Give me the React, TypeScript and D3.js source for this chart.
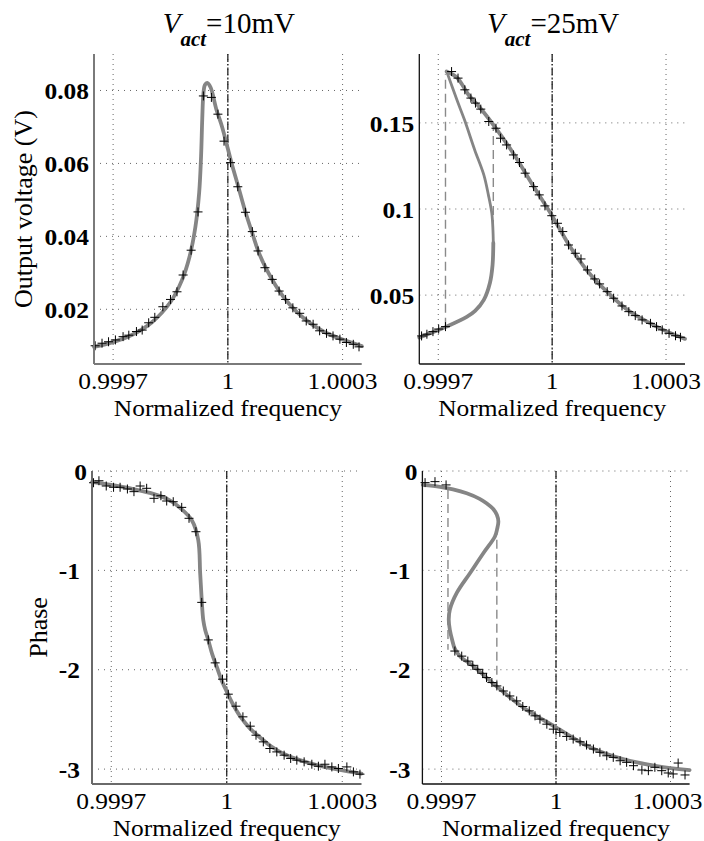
import React from 'react';
import * as d3 from 'd3';

type Pt = [number, number];

const FONT = '"Liberation Serif","Times New Roman",Times,serif';
const SX = 1.06; // horizontal stretch of the printed glyphs
const W = 704;
const H = 841;

// ---- axes / ticks ----
const freqDomain: Pt = [0.99965, 1.00035];
const freqTicks = [0.9997, 1, 1.0003];
const freqTickLabels = ['0.9997', '1', '1.0003'];

const amp10Domain: Pt = [0.005, 0.09];
const amp10Ticks = [0.02, 0.04, 0.06, 0.08];
const amp10TickLabels = ['0.02', '0.04', '0.06', '0.08'];

const amp25Domain: Pt = [0.01, 0.19];
const amp25Ticks = [0.05, 0.1, 0.15];
const amp25TickLabels = ['0.05', '0.1', '0.15'];

const phaseDomain: Pt = [-3.15, 0];
const phaseTicks = [0, -1, -2, -3];
const phaseTickLabels = ['0', '-1', '-2', '-3'];

const titles = ['=10mV', '=25mV'];

// ---- V_act = 10 mV, amplitude ----
const amp10Curve: Pt[] = [
  [0.99965, 0.0097], [0.9997, 0.0110], [0.99975, 0.0130], [0.9998, 0.0163], [0.99985, 0.0220],
  [0.99988, 0.0280], [0.9999, 0.0345], [0.999915, 0.0425], [0.999925, 0.0520], [0.99993, 0.0620],
  [0.999933, 0.0720], [0.999936, 0.0790], [0.99994, 0.0815], [0.999946, 0.0821], [0.999955, 0.0808],
  [0.99997, 0.0748], [0.999985, 0.0700], [1.0, 0.0640], [1.00001, 0.0600], [1.000025, 0.0545],
  [1.000045, 0.0470], [1.000065, 0.0405], [1.00008, 0.0358], [1.0001, 0.0312], [1.00013, 0.0257],
  [1.00016, 0.0215], [1.0002, 0.0174], [1.00025, 0.0139], [1.0003, 0.0117], [1.00035, 0.0099],
];
const amp10Meas: Pt[] = [
  [0.999653, 0.0100], [0.999671, 0.0107], [0.999688, 0.0111], [0.999706, 0.0116], [0.999726, 0.0125],
  [0.999741, 0.0129], [0.999761, 0.0139], [0.999776, 0.0143], [0.999793, 0.0163], [0.999809, 0.0178],
  [0.99983, 0.0207], [0.99985, 0.0227], [0.999867, 0.0248], [0.999883, 0.0294], [0.999904, 0.0362],
  [0.999922, 0.0467], [0.999936, 0.0785], [0.999957, 0.0781], [0.999974, 0.0735], [0.99999, 0.0661],
  [1.000007, 0.0602], [1.000026, 0.0536], [1.000046, 0.0466], [1.000064, 0.0413], [1.000079, 0.0360],
  [1.000097, 0.0314], [1.000116, 0.0282], [1.000134, 0.0250], [1.000151, 0.0227], [1.00017, 0.0204],
  [1.000188, 0.0189], [1.000205, 0.0168], [1.000223, 0.0159], [1.00024, 0.0141], [1.000258, 0.0134],
  [1.000275, 0.0127], [1.000293, 0.0118], [1.00031, 0.0109], [1.000328, 0.0104], [1.000343, 0.0097],
];

// ---- V_act = 25 mV, amplitude ----
const amp25Upper: Pt[] = [
  [0.999722, 0.1799], [0.99975, 0.1762], [0.99978, 0.1662], [0.99981, 0.1588], [0.99985, 0.1474],
  [0.9999, 0.1315], [0.99995, 0.1135], [1.0, 0.0960], [1.00005, 0.0772], [1.0001, 0.0621],
  [1.00015, 0.0508], [1.0002, 0.0412], [1.00025, 0.0346], [1.0003, 0.0291], [1.00035, 0.0246],
];
const amp25Middle: Pt[] = [
  [0.999845, 0.0803], [0.999844, 0.0880], [0.999841, 0.0976], [0.999832, 0.1082], [0.99982, 0.1198],
  [0.999796, 0.1343], [0.999769, 0.1518], [0.999749, 0.1634], [0.999722, 0.1799],
];
const amp25Lower: Pt[] = [
  [0.99965, 0.0254], [0.999678, 0.0278], [0.999722, 0.0317], [0.999775, 0.0373], [0.999797, 0.0408],
  [0.99982, 0.0472], [0.999836, 0.0570], [0.999843, 0.0675], [0.999845, 0.0803],
];
const amp25Meas: Pt[] = [
  [0.999656, 0.0263], [0.99967, 0.0273], [0.999686, 0.0288], [0.999701, 0.0303], [0.999719, 0.0317],
  [0.999735, 0.1798], [0.999752, 0.1760], [0.99977, 0.1692], [0.999786, 0.1644], [0.999798, 0.1615],
  [0.999812, 0.1580], [0.999833, 0.1508], [0.999852, 0.1469], [0.999864, 0.1411], [0.99988, 0.1372],
  [0.999898, 0.1314], [0.999914, 0.1270], [0.999929, 0.1208], [0.999951, 0.1130], [0.999966, 0.1082],
  [0.999981, 0.1018], [0.999999, 0.0961], [1.000014, 0.0917], [1.000028, 0.0869], [1.000043, 0.0791],
  [1.000061, 0.0743], [1.000076, 0.0710], [1.000093, 0.0646], [1.000112, 0.0594], [1.000125, 0.0565],
  [1.000145, 0.0520], [1.000162, 0.0482], [1.000184, 0.0437], [1.000202, 0.0404], [1.000219, 0.0381],
  [1.000237, 0.0356], [1.000259, 0.0336], [1.000275, 0.0317], [1.00029, 0.0298], [1.000308, 0.0278],
  [1.000325, 0.0264], [1.000338, 0.0255],
];
// jump lines: [frequency, from, to]
const amp25Jumps: [number, number, number][] = [
  [0.999719, 0.0317, 0.1785],
  [0.999845, 0.0803, 0.1474],
];

// ---- V_act = 10 mV, phase ----
const phase10Curve: Pt[] = [
  [0.99965, -0.11], [0.9997, -0.14], [0.99975, -0.175], [0.9998, -0.22], [0.99985, -0.29],
  [0.99988, -0.375], [0.99991, -0.50], [0.999926, -0.695], [0.999931, -1.03], [0.999935, -1.30],
  [0.999939, -1.50], [0.999944, -1.60], [0.999952, -1.70], [0.999962, -1.84], [0.999974, -1.97],
  [0.999986, -2.10], [1.0, -2.22], [1.000015, -2.34], [1.000035, -2.47], [1.00006, -2.59],
  [1.000086, -2.68], [1.000115, -2.77], [1.000147, -2.845], [1.00019, -2.91], [1.000234, -2.96],
  [1.00029, -3.005], [1.00035, -3.045],
];
const phase10Meas: Pt[] = [
  [0.999654, -0.118], [0.999668, -0.098], [0.999687, -0.151], [0.999706, -0.164], [0.999723, -0.164],
  [0.999742, -0.181], [0.999759, -0.208], [0.999775, -0.151], [0.999792, -0.174], [0.999811, -0.275],
  [0.999829, -0.249], [0.999844, -0.302], [0.999861, -0.309], [0.999883, -0.366], [0.999902, -0.476],
  [0.99992, -0.611], [0.999935, -1.322], [0.999952, -1.70], [0.99997, -1.931], [0.999989, -2.095],
  [1.000004, -2.246], [1.000024, -2.367], [1.000042, -2.474], [1.000061, -2.568], [1.000076, -2.659],
  [1.000095, -2.726], [1.000112, -2.793], [1.00013, -2.827], [1.000149, -2.86], [1.000166, -2.893],
  [1.000182, -2.91], [1.000201, -2.927], [1.000221, -2.951], [1.000238, -2.971], [1.000255, -2.951],
  [1.000273, -2.978], [1.00029, -2.994], [1.000312, -2.978], [1.000329, -3.028], [1.000346, -3.051],
];

// ---- V_act = 25 mV, phase ----
const phase25Curve: Pt[] = [
  [0.999651, -0.14], [0.999696, -0.16], [0.99973, -0.185], [0.999766, -0.224], [0.9998, -0.28],
  [0.999818, -0.324], [0.999835, -0.38], [0.999845, -0.441], [0.999849, -0.508], [0.999846, -0.58],
  [0.99984, -0.659], [0.99981, -0.825], [0.999775, -1.026], [0.99974, -1.227], [0.999722, -1.394],
  [0.999719, -1.494], [0.999722, -1.60], [0.999728, -1.70], [0.999735, -1.79], [0.99975, -1.87],
  [0.999783, -1.963], [0.999845, -2.17], [0.999914, -2.38], [1.0, -2.58], [1.000089, -2.78],
  [1.000176, -2.90], [1.000264, -2.97], [1.00035, -3.01],
];
const phase25Meas: Pt[] = [
  [0.999657, -0.117], [0.999683, -0.107], [0.999712, -0.14],
  [0.999735, -1.812], [0.999753, -1.863], [0.999769, -1.913], [0.999782, -1.956], [0.999795, -1.996],
  [0.999808, -2.036], [0.999818, -2.079], [0.999832, -2.129], [0.999845, -2.163], [0.999862, -2.214],
  [0.999879, -2.264], [0.999897, -2.314], [0.999913, -2.37], [0.99993, -2.414], [0.999945, -2.464],
  [0.999958, -2.497], [0.999976, -2.548], [0.999993, -2.598], [1.00001, -2.631], [1.000028, -2.671],
  [1.000045, -2.698], [1.000063, -2.725], [1.00008, -2.758], [1.000098, -2.798], [1.000115, -2.831],
  [1.000133, -2.866], [1.00015, -2.882], [1.000168, -2.916], [1.000185, -2.932], [1.000203, -2.966],
  [1.000225, -3.009], [1.000242, -3.016], [1.000259, -2.982], [1.000277, -3.016], [1.000294, -3.039],
  [1.000307, -3.049], [1.00032, -2.939], [1.000338, -3.059],
];
const phase25Jumps: [number, number, number][] = [
  [0.999717, -0.19, -1.80],
  [0.999845, -0.55, -2.17],
];

interface PanelCfg {
  key: string;
  xr: [number, number];
  yr: [number, number];
  yDomain: Pt;
  yTicks: number[];
  yTickLabels: string[];
  curves: { data: Pt[]; width: number }[];
  meas: Pt[];
  jumps: [number, number, number][];
  axisColor: string;
  axisWidth: number;
  title?: string;
  yLabel?: string;
  yLabelX?: number;
}

const TICK_FS = 24;

function renderPanel(c: PanelCfg) {
  const x = d3.scaleLinear().domain(freqDomain).range(c.xr);
  const y = d3.scaleLinear().domain(c.yDomain).range(c.yr);
  const [x0, x1] = c.xr;
  const [yb, yt] = c.yr;
  const line = d3
    .line<Pt>()
    .x((d) => x(d[0]))
    .y((d) => y(d[1]))
    .curve(d3.curveCatmullRom.alpha(0.5));
  const cx = (x0 + x1) / 2;
  // keep the centred x tick labels inside the picture
  const tickX = (t: number, label: string) => {
    const half = (label.replace(/\./g, '').length * 0.5 + (label.includes('.') ? 0.25 : 0)) * TICK_FS * SX / 2;
    return Math.min(x(t), W - half - 1.5);
  };
  return (
    <g key={c.key}>
      {freqTicks.map((t, i) => (
        <line key={'gx' + i} x1={x(t)} x2={x(t)} y1={yt} y2={yb} stroke="#666" strokeWidth={1} strokeDasharray="1,4" />
      ))}
      {c.yTicks.map((t, i) => (
        <line key={'gy' + i} x1={x0} x2={x1} y1={y(t)} y2={y(t)} stroke="#666" strokeWidth={1} strokeDasharray="1,5" />
      ))}
      <line x1={x(1)} x2={x(1)} y1={yt} y2={yb} stroke="#111" strokeWidth={1.2} strokeDasharray="8,2,1.5,2" />
      {c.jumps.map((j, i) => (
        <line key={'j' + i} x1={x(j[0])} x2={x(j[0])} y1={y(j[1])} y2={y(j[2])} stroke="#8a8a8a" strokeWidth={1.4} strokeDasharray="9,5" />
      ))}
      {c.curves.map((cv, i) => (
        <path key={'c' + i} d={line(cv.data) || ''} fill="none" stroke="#858585" strokeWidth={cv.width} strokeLinejoin="round" strokeLinecap="round" />
      ))}
      {c.meas.map((d, i) => {
        const px = x(d[0]);
        const py = y(d[1]);
        return (
          <path key={'m' + i} d={`M${px - 4.5},${py}H${px + 4.5}M${px},${py - 4.5}V${py + 4.5}`} stroke="#000" strokeWidth={1} fill="none" />
        );
      })}
      <line x1={x0} x2={x0} y1={yt} y2={yb} stroke={c.axisColor} strokeWidth={c.axisWidth} />
      <line x1={x0} x2={x1} y1={yb} y2={yb} stroke={c.axisColor} strokeWidth={c.axisWidth} />
      {c.yTicks.map((t, i) => (
        <text
          key={'yt' + i}
          transform={`translate(${x0 - (c.yTickLabels[i].startsWith('-') ? 12 : 5)},${y(t)}) scale(${SX},1)`}
          dy="0.36em"
          textAnchor="end"
          fontFamily={FONT}
          fontWeight="bold"
          fontSize={TICK_FS}
        >
          {c.yTickLabels[i]}
        </text>
      ))}
      {freqTicks.map((t, i) => (
        <text
          key={'xt' + i}
          transform={`translate(${tickX(t, freqTickLabels[i])},${yb + 25}) scale(${SX},1)`}
          textAnchor="middle"
          fontFamily={FONT}
          fontSize={TICK_FS}
        >
          {freqTickLabels[i]}
        </text>
      ))}
      <text
        transform={`translate(${cx},${yb + 52}) scale(${SX},1)`}
        textAnchor="middle"
        fontFamily={FONT}
        fontSize={24}
      >
        Normalized frequency
      </text>
      {c.title && (
        <text x={cx + 1} y={33} textAnchor="middle" fontFamily={FONT} fontSize={29}>
          <tspan fontStyle="italic">V</tspan>
          <tspan fontStyle="italic" fontWeight="bold" fontSize={21} dy={13}>act</tspan>
          <tspan dy={-13}>{c.title}</tspan>
        </text>
      )}
      {c.yLabel && (
        <text
          transform={`translate(${c.yLabelX},${(yt + yb) / 2}) rotate(-90)`}
          textAnchor="middle"
          fontFamily={FONT}
          fontSize={26}
        >
          {c.yLabel}
        </text>
      )}
    </g>
  );
}

export default function App() {
  const panels: PanelCfg[] = [
    {
      key: 'a10',
      xr: [94, 361.7],
      yr: [364, 54],
      yDomain: amp10Domain,
      yTicks: amp10Ticks,
      yTickLabels: amp10TickLabels,
      curves: [{ data: amp10Curve, width: 3.8 }],
      meas: amp10Meas,
      jumps: [],
      axisColor: '#7a7a7a',
      axisWidth: 2,
      title: titles[0],
      yLabel: 'Output voltage (V)',
      yLabelX: 32,
    },
    {
      key: 'a25',
      xr: [419.3, 685],
      yr: [364, 54],
      yDomain: amp25Domain,
      yTicks: amp25Ticks,
      yTickLabels: amp25TickLabels,
      curves: [
        { data: amp25Lower, width: 3.8 },
        { data: amp25Middle, width: 2.8 },
        { data: amp25Upper, width: 3.8 },
      ],
      meas: amp25Meas,
      jumps: amp25Jumps,
      axisColor: '#111',
      axisWidth: 1.3,
      title: titles[1],
    },
    {
      key: 'p10',
      xr: [92, 361.5],
      yr: [784, 471],
      yDomain: phaseDomain,
      yTicks: phaseTicks,
      yTickLabels: phaseTickLabels,
      curves: [{ data: phase10Curve, width: 3.8 }],
      meas: phase10Meas,
      jumps: [],
      axisColor: '#6a6a6a',
      axisWidth: 2,
      yLabel: 'Phase',
      yLabelX: 47,
    },
    {
      key: 'p25',
      xr: [422.4, 689.6],
      yr: [784, 471],
      yDomain: phaseDomain,
      yTicks: phaseTicks,
      yTickLabels: phaseTickLabels,
      curves: [{ data: phase25Curve, width: 3.8 }],
      meas: phase25Meas,
      jumps: phase25Jumps,
      axisColor: '#111',
      axisWidth: 1.3,
    },
  ];
  return (
    <svg
      width={W}
      height={H}
      viewBox={`0 0 ${W} ${H}`}
      style={{ position: 'absolute', left: 0, top: 0, background: '#fff' }}
    >
      <rect x={0} y={0} width={W} height={H} fill="#fff" />
      {panels.map(renderPanel)}
    </svg>
  );
}
